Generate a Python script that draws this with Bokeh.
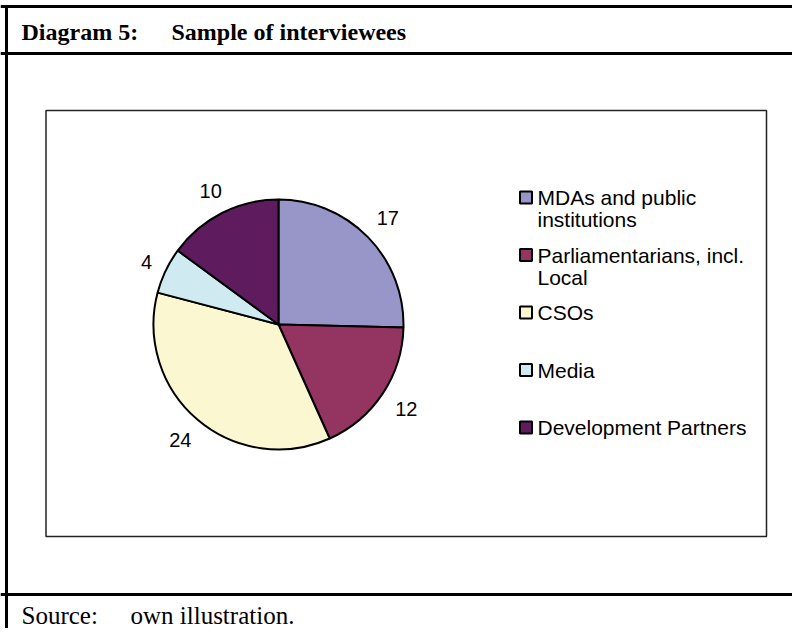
import math
from bokeh.plotting import figure
from bokeh.models import Range1d, ColumnDataSource
from bokeh.embed import file_html
from bokeh.resources import INLINE
from bokeh.core.properties import value

# ---- data ----
categories = ["MDAs and public\ninstitutions", "Parliamentarians, incl.\nLocal",
              "CSOs", "Media", "Development Partners"]
counts = [17, 12, 24, 4, 10]
colors = ["#9896C9", "#943461", "#FBF8D1", "#CFEBF1", "#5E1C5E"]
title_number = "Diagram 5:"
title_text = "Sample of interviewees"
source_label = "Source:"
source_text = "own illustration."

# ---- canvas in pixel coordinates (origin top-left) ----
W, H = 792, 628
p = figure(width=W, height=H, x_range=Range1d(0, W), y_range=Range1d(0, H),
           output_backend="svg", toolbar_location=None, min_border=0)
p.axis.visible = False
p.grid.visible = False
p.outline_line_color = None
p.background_fill_color = "white"


def Y(py):
    return H - py


SANS = value("Liberation Sans")
SERIF = value("Liberation Serif")

# frame lines
p.segment(x0=[6, 0, 0, 0], y0=[Y(5), Y(6), Y(53), Y(594)],
          x1=[6, W, W, W], y1=[Y(H), Y(6), Y(53), Y(594)],
          line_color="black", line_width=3)

# inner chart box
p.quad(left=[45.5], right=[766], top=[Y(110)], bottom=[Y(536)],
       fill_color=None, line_color="#222222", line_width=1.5)

# title
p.text(x=[21, 171], y=[Y(31), Y(31)], text=[title_number, title_text], text_font=SERIF,
       text_font_style="bold", text_font_size="24px", text_baseline="middle",
       text_color="black")

# source
p.text(x=[21, 130], y=[Y(615), Y(615)], text=[source_label, source_text], text_font=SERIF,
       text_font_size="25px", text_baseline="middle", text_color="black")

# ---- pie ----
cx, cy, R = 278, Y(324), 125
total = sum(counts)
starts, ends, mids = [], [], []
acc = 0
for c in counts:
    a0 = math.pi / 2 - 2 * math.pi * acc / total
    acc += c
    a1 = math.pi / 2 - 2 * math.pi * acc / total
    starts.append(a0)
    ends.append(a1)
    mids.append((a0 + a1) / 2)

src = ColumnDataSource(dict(start=starts, end=ends, color=colors))
p.wedge(x=cx, y=cy, radius=R, radius_units="screen", start_angle="start", end_angle="end",
        direction="clock", fill_color="color", line_color="black", line_width=2, source=src)

# data labels placed outside the pie, text box edge at a fixed gap
lx, ly, lt = [], [], []
for c, m in zip(counts, mids):
    s = str(c)
    a, b = 5.6 * len(s), 9.0
    ca, sa = abs(math.cos(m)), abs(math.sin(m))
    ext = min(a / ca if ca > 1e-6 else 1e9, b / sa if sa > 1e-6 else 1e9)
    d = R + 15 + ext
    lx.append(cx + d * math.cos(m))
    ly.append(cy + d * math.sin(m))
    lt.append(s)
p.text(x=lx, y=ly, text=lt, text_font=SANS, text_font_size="20px",
       text_align="center", text_baseline="middle", text_color="black")

# ---- legend ----
leg_x, leg_y0, leg_step, line_h = 525.5, 197, 57.5, 22
sq_x, sq_y, tx, ty, tt = [], [], [], [], []
for i, lab in enumerate(categories):
    y0 = leg_y0 + i * leg_step
    sq_x.append(leg_x)
    sq_y.append(Y(y0))
    for j, line in enumerate(lab.split("\n")):
        tx.append(537)
        ty.append(Y(y0 + j * line_h))
        tt.append(line)
p.rect(x=sq_x, y=sq_y, width=12, height=12, fill_color=colors, line_color="black", line_width=2)
p.text(x=tx, y=ty, text=tt, text_font=SANS, text_font_size="21px",
       text_baseline="middle", text_color="black")

open("out.html", "w").write(file_html(p, INLINE))
